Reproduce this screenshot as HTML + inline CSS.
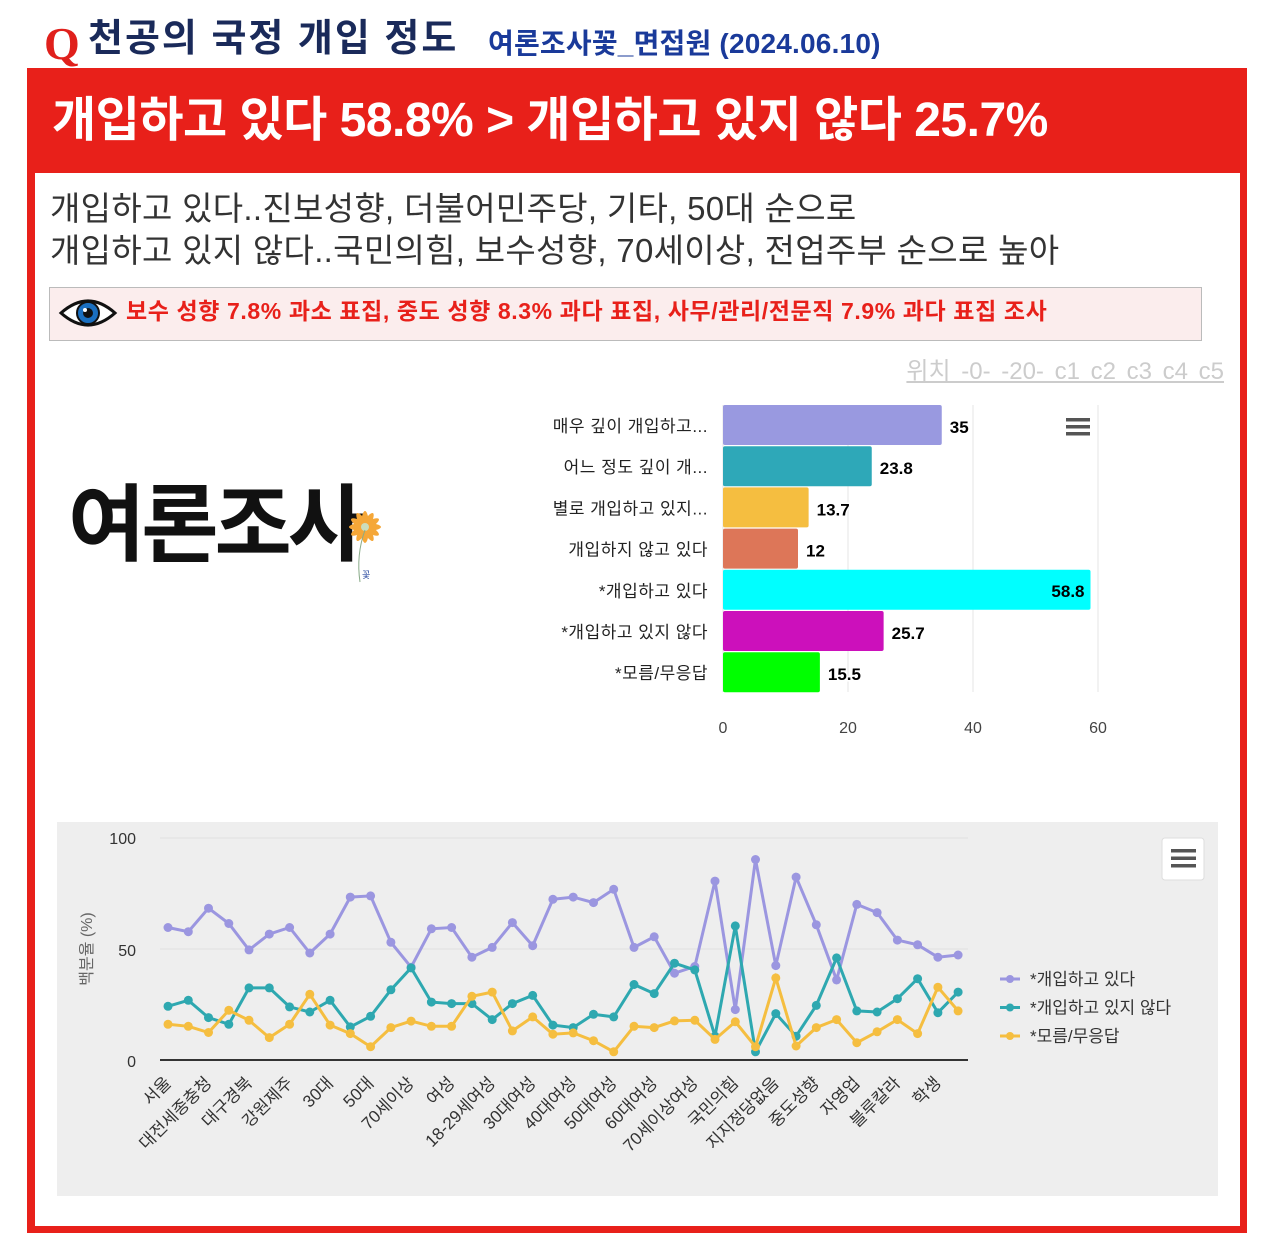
<!DOCTYPE html>
<html><head><meta charset="utf-8"><style>
body{margin:0;width:1274px;height:1247px;background:#fff;position:relative;overflow:hidden;font-family:"Liberation Sans","Noto Sans CJK KR",sans-serif;}
.a{position:absolute;white-space:nowrap;}
</style></head><body>
<div class="a" style="left:44px;top:18px;font-family:'Liberation Serif',serif;font-weight:bold;font-size:46px;color:#e0201c;line-height:52px">Q</div>
<div class="a" style="left:88px;top:14px;font-weight:bold;font-size:38px;color:#1a2a5a;line-height:50px;letter-spacing:2px">천공의 국정 개입 정도</div>
<div class="a" style="left:488px;top:25px;font-weight:bold;font-size:28px;color:#1a3a9a;line-height:38px;letter-spacing:0.2px">여론조사꽃_면접원 (2024.06.10)</div>
<div class="a" style="left:27px;top:68px;width:1220px;height:1165px;background:#e8201a"></div>
<div class="a" style="left:35px;top:173px;width:1205px;height:1053px;background:#fff"></div>
<div class="a" style="left:52px;top:90px;font-weight:bold;font-size:48px;color:#fff;line-height:62px;letter-spacing:-0.5px">개입하고 있다 58.8% &gt; 개입하고 있지 않다 25.7%</div>
<div class="a" style="left:50px;top:188px;font-size:33px;color:#333;line-height:42px;letter-spacing:0.3px">개입하고 있다..진보성향, 더불어민주당, 기타, 50대 순으로<br>개입하고 있지 않다..국민의힘, 보수성향, 70세이상, 전업주부 순으로 높아</div>
<div class="a" style="left:49px;top:287px;width:1151px;height:52px;background:#fbeded;border:1px solid #bbb"></div>
<svg class="a" style="left:58px;top:293px" width="60" height="40"><path d="M3 20 Q30 -4 57 20 Q30 44 3 20Z" fill="#fff" stroke="#111" stroke-width="3"/><circle cx="30" cy="20" r="11" fill="#1a6fc0" stroke="#111" stroke-width="2"/><circle cx="30" cy="20" r="5" fill="#111"/><circle cx="27" cy="17" r="2" fill="#fff"/></svg>
<div class="a" style="left:126px;top:296px;font-weight:bold;font-size:23px;color:#e8201a;line-height:30px;letter-spacing:0.6px">보수 성향 7.8% 과소 표집, 중도 성향 8.3% 과다 표집, 사무/관리/전문직 7.9% 과다 표집 조사</div>
<div class="a" style="right:50px;top:356px;font-size:24px;color:#ccc;line-height:32px;text-decoration:underline;word-spacing:4px">위치 -0- -20- c1 c2 c3 c4 c5</div>
<div class="a" style="left:68px;top:470px;font-weight:bold;font-size:84px;color:#111;line-height:110px;letter-spacing:-4px">여론조사</div>
<svg class="a" style="left:338px;top:500px" width="52" height="90"><g fill="#f5a738"><ellipse cx="27" cy="27" rx="4" ry="16"/><ellipse cx="27" cy="27" rx="4" ry="16" transform="rotate(30 27 27)"/><ellipse cx="27" cy="27" rx="4" ry="16" transform="rotate(60 27 27)"/><ellipse cx="27" cy="27" rx="4" ry="16" transform="rotate(90 27 27)"/><ellipse cx="27" cy="27" rx="4" ry="16" transform="rotate(120 27 27)"/><ellipse cx="27" cy="27" rx="4" ry="16" transform="rotate(150 27 27)"/></g><circle cx="27" cy="27" r="4" fill="#cdb"/><path d="M27 30 Q18 55 22 82" stroke="#8a8" fill="none"/><text x="24" y="78" font-size="9" fill="#2a4aa0">꽃</text></svg>
<svg class="a" style="left:0;top:0" width="1274" height="1247" id="s"></svg>
<script>
var s='';
[723,848,973,1098].forEach(function(x){s+='<line x1="'+x+'" y1="405" x2="'+x+'" y2="692" stroke="#e6e6e6"/>';});
var cats=['매우 깊이 개입하고...','어느 정도 깊이 개...','별로 개입하고 있지...','개입하지 않고 있다','*개입하고 있다','*개입하고 있지 않다','*모름/무응답'];
var vals=[35,23.8,13.7,12,58.8,25.7,15.5];
var cols=['#9999e0','#2ea8b8','#f5be40','#dd7658','#00ffff','#cc10bb','#00ff00'];
for(var i=0;i<7;i++){var y=405+i*41.2;var w=vals[i]*6.25;
s+='<rect x="723" y="'+y+'" width="'+w+'" height="40" rx="2" fill="'+cols[i]+'"/>';
s+='<text x="708" y="'+(y+27)+'" text-anchor="end" font-size="17" fill="#222" letter-spacing="0.5">'+cats[i]+'</text>';
if(i==4)s+='<text x="'+(723+w-6)+'" y="'+(y+27)+'" text-anchor="end" font-size="17" font-weight="bold" fill="#000">'+vals[i]+'</text>';
else s+='<text x="'+(723+w+8)+'" y="'+(y+28)+'" font-size="17" font-weight="bold" fill="#000" stroke="#fff" stroke-width="3" paint-order="stroke">'+vals[i]+'</text>';}
[0,20,40,60].forEach(function(v,k){s+='<text x="'+(723+k*125)+'" y="733" text-anchor="middle" font-size="16" fill="#444">'+v+'</text>';});
s+='<g transform="translate(1066,418)"><rect width="24" height="3.5" fill="#555"/><rect y="7" width="24" height="3.5" fill="#555"/><rect y="14" width="24" height="3.5" fill="#555"/></g>';
s+='<rect x="57" y="822" width="1161" height="374" fill="#eee"/>';
s+='<line x1="160" y1="838" x2="968" y2="838" stroke="#e0e0e0"/><line x1="160" y1="949" x2="968" y2="949" stroke="#e0e0e0"/><line x1="160" y1="1060" x2="968" y2="1060" stroke="#333" stroke-width="2"/>';
s+='<text x="136" y="844" text-anchor="end" font-size="16" fill="#333">100</text><text x="136" y="956" text-anchor="end" font-size="16" fill="#333">50</text><text x="136" y="1067" text-anchor="end" font-size="16" fill="#333">0</text>';
s+='<text transform="translate(92,949) rotate(-90)" text-anchor="middle" font-size="16" fill="#666">백분율 (%)</text>';
var P=[59.7,57.8,68.4,61.5,49.6,56.7,59.7,48.2,56.7,73.4,73.9,53.0,41.8,59.1,59.7,46.3,50.7,61.9,51.5,72.4,73.4,70.9,76.9,50.7,55.5,39.1,42.1,80.6,22.7,90.3,42.5,82.4,60.9,36.1,70.1,66.4,54.0,51.9,46.3,47.3];
var T=[24.2,26.9,19.1,16.1,32.5,32.5,23.9,21.6,26.9,14.9,19.7,31.6,41.5,26.1,25.4,25.4,18.2,25.4,29.1,15.7,14.6,20.6,19.4,34.0,29.9,43.6,40.6,10.7,60.4,3.7,20.9,10.7,24.6,46.0,22.1,21.6,27.6,36.6,21.3,30.6];
var Y=[16.1,15.2,12.4,22.4,17.9,10.1,16.1,29.6,15.7,11.9,6.0,14.6,17.5,15.2,15.2,28.7,30.6,13.1,19.4,11.6,12.2,8.7,3.7,15.2,14.6,17.6,17.9,9.3,17.2,6.0,37.0,6.3,14.6,18.2,7.8,12.7,18.2,11.9,32.8,22.1];
function ser(d,c){var pts=d.map(function(v,i){return (168+i*20.26).toFixed(1)+','+(1060-v*2.22).toFixed(1);});
s+='<polyline points="'+pts.join(' ')+'" fill="none" stroke="'+c+'" stroke-width="3"/>';
pts.forEach(function(p){var q=p.split(',');s+='<circle cx="'+q[0]+'" cy="'+q[1]+'" r="4.5" fill="'+c+'"/>';});}
ser(P,'#9b96e0');ser(T,'#2ea8b0');ser(Y,'#f5be40');
var L=['서울','대전세종충청','대구경북','강원제주','30대','50대','70세이상','여성','18-29세여성','30대여성','40대여성','50대여성','60대여성','70세이상여성','국민의힘','지지정당없음','중도성향','자영업','블루칼라','학생'];
L.forEach(function(t,i){var x=168+i*40.52+4;s+='<text transform="translate('+x+',1084) rotate(-45)" text-anchor="end" font-size="17" fill="#333">'+t+'</text>';});
var lg=[['*개입하고 있다','#9b96e0'],['*개입하고 있지 않다','#2ea8b0'],['*모름/무응답','#f5be40']];
lg.forEach(function(l,i){var y=979+i*28.5;s+='<line x1="1000" y1="'+y+'" x2="1020" y2="'+y+'" stroke="'+l[1]+'" stroke-width="3"/><circle cx="1010" cy="'+y+'" r="4" fill="'+l[1]+'"/><text x="1030" y="'+(y+6)+'" font-size="17" fill="#333">'+l[0]+'</text>';});
s+='<rect x="1162" y="838" width="42" height="42" rx="3" fill="#fff" stroke="#ddd"/><g transform="translate(1171,849)"><rect width="25" height="3.5" fill="#555"/><rect y="7.5" width="25" height="3.5" fill="#555"/><rect y="15" width="25" height="3.5" fill="#555"/></g>';
document.getElementById('s').innerHTML=s;
</script>
</body></html>
